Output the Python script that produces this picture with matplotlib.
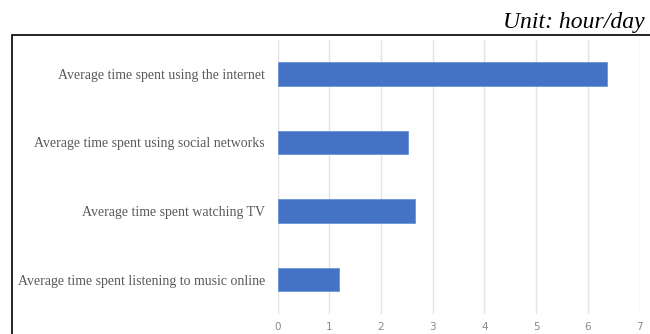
from matplotlib import pyplot as plt
from matplotlib.patches import Rectangle

# Valeurs du graphique (heures par jour)
categories = [
    "Average time spent using the internet",
    "Average time spent using social networks",
    "Average time spent watching TV",
    "Average time spent listening to music online",
]
hours = [6.38, 2.53, 2.66, 1.19]
x_ticks = [0, 1, 2, 3, 4, 5, 6, 7]


def main() -> int:
    W, H = 650, 334
    fig = plt.figure(figsize=(W / 100, H / 100), dpi=100)

    # zone de tracé, en pixels
    left, right, top, bottom = 277.5, 639.5, 39.75, 313.75
    ax = fig.add_axes([left / W, 1 - bottom / H, (right - left) / W, (bottom - top) / H])

    pos = list(range(len(categories)))
    ax.barh(pos, hours, height=0.35, color="#4472C4",
            edgecolor="#6a93d8", linewidth=0.6, zorder=3)

    ax.set_xlim(0, 7)
    ax.set_ylim(len(categories) - 0.5, -0.5)
    ax.set_xticks(x_ticks)
    ax.set_xticklabels([str(t) for t in x_ticks], fontsize=7.5,
                       color="#8a8a8a", family="DejaVu Sans")
    ax.set_yticks(pos)
    ax.set_yticklabels(categories, fontsize=10, color="#595959",
                       family="Liberation Serif")
    ax.tick_params(axis="both", length=0)
    ax.tick_params(axis="x", pad=6)
    ax.tick_params(axis="y", pad=9)
    ax.grid(axis="x", color="#e3e3e3", linewidth=1, zorder=0)
    for s in ax.spines.values():
        s.set_visible(False)

    # cadre noir autour du graphique
    fig.patches.append(Rectangle((12 / W, -0.1), 1.0, 1 - 35 / H + 0.1,
                                 transform=fig.transFigure, fill=False,
                                 edgecolor="black", linewidth=1.2,
                                 clip_on=False))

    fig.text(645 / W, 1 - 28 / H, "Unit: hour/day", ha="right",
             va="baseline", fontsize=17, style="italic",
             family="Liberation Serif", color="black")

    fig.savefig("out.png", dpi=100)
    return 0


if __name__ == "__main__":
    main()
